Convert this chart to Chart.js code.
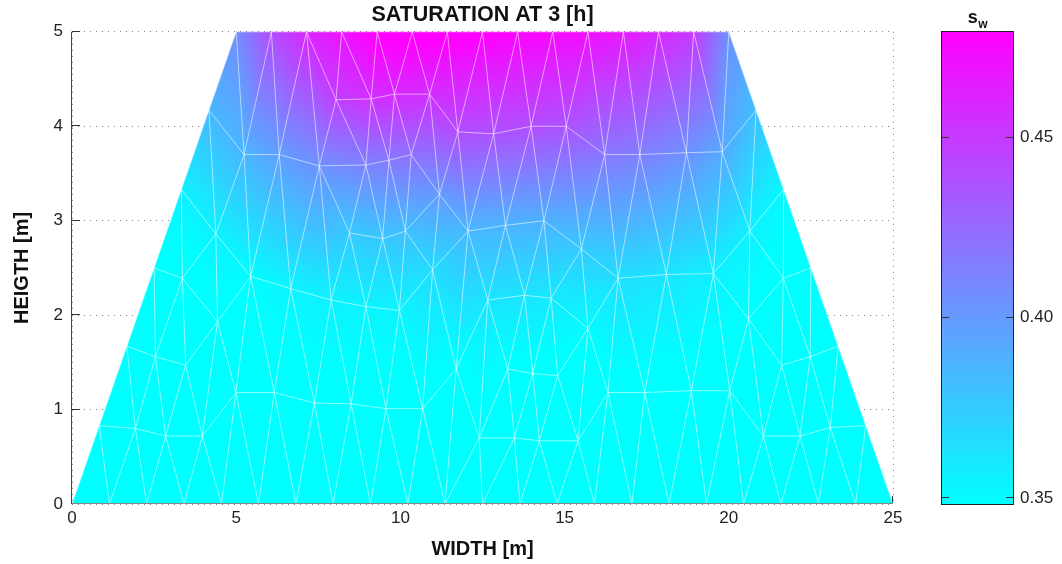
<!DOCTYPE html>
<html>
<head>
<meta charset="utf-8">
<script src="https://cdn.jsdelivr.net/npm/chart.js@4.4.0/dist/chart.umd.min.js"></script>
<style>
  html, body { margin: 0; padding: 0; background: #fff; }
  #wrap { position: relative; width: 1062px; height: 564px; }
  #main { position: absolute; left: 0; top: 0; width: 1062px; height: 564px; }
  #cbar { position: absolute; left: 930px; top: 0; width: 132px; height: 564px; }
</style>
</head>
<body>
<div id="wrap">
  <div id="main"><canvas id="field"></canvas></div>
  <div id="cbar"><canvas id="bar"></canvas></div>
</div>
<script>
// mesh nodes, saturation s_w at each node

// bottom row, y = 0
const bottomX = [0, 1.14, 2.27, 3.41, 4.55, 5.68, 6.82, 7.95, 9.09, 10.23, 11.36, 12.5,
                 13.64, 14.77, 15.91, 17.05, 18.18, 19.32, 20.45, 21.59, 22.73, 23.86, 25];
const bottomS = [0.338, 0.338, 0.338, 0.338, 0.338, 0.338, 0.338, 0.338, 0.338, 0.338, 0.338, 0.338,
                 0.338, 0.338, 0.338, 0.338, 0.338, 0.338, 0.338, 0.338, 0.338, 0.338, 0.338];

// top row, y = 5
const topX = [5, 6.07, 7.14, 8.21, 9.29, 10.36, 11.43, 12.5, 13.57, 14.64, 15.71, 16.79, 17.86, 18.93, 20];
const topS = [0.407, 0.440, 0.460, 0.470, 0.482, 0.484, 0.483, 0.481, 0.478, 0.475, 0.472, 0.467, 0.459, 0.450, 0.405];

// sloped sides
const leftX = [0.83, 1.67, 2.5, 3.33, 4.17];
const leftY = [0.83, 1.67, 2.5, 3.33, 4.17];
const leftS = [0.340, 0.341, 0.345, 0.356, 0.385];
const rightX = [24.17, 23.33, 22.5, 21.67, 20.83];
const rightY = [0.83, 1.67, 2.5, 3.33, 4.17];
const rightS = [0.340, 0.341, 0.344, 0.352, 0.381];

// inside nodes
const innerX = [8.04, 9.11, 9.82, 10.89, 11.75, 12.84, 13.98, 15.05,
                5.24, 6.31, 7.53, 8.95, 9.65, 10.33, 16.22, 17.29, 18.71, 19.80, 11.19,
                4.38, 8.45, 9.46, 10.15, 12.06, 13.20, 14.37, 15.51, 20.64,
                3.36, 5.44, 6.66, 7.89, 8.95, 9.97, 10.98, 12.66, 13.78, 14.59, 15.71, 16.63, 18.10, 19.53, 20.60, 21.66,
                4.43, 2.54, 3.46, 11.70, 13.27, 14.03, 14.79, 16.32, 17.44, 18.86, 20.03, 21.61, 22.48,
                4.99, 6.16, 7.38, 8.50, 9.56, 10.68,
                1.93, 2.85, 3.97, 12.40, 13.47, 14.23, 15.41, 21.05, 22.17, 23.09];
const innerY = [4.28, 4.29, 4.34, 4.34, 3.94, 3.92, 4.00, 4.00,
                3.70, 3.70, 3.58, 3.59, 3.64, 3.70, 3.70, 3.70, 3.72, 3.73, 3.28,
                2.86, 2.87, 2.81, 2.89, 2.89, 2.95, 3.00, 2.70, 2.89,
                2.39, 2.41, 2.28, 2.16, 2.09, 2.05, 2.48, 2.16, 2.21, 2.18, 1.86, 2.39, 2.43, 2.44, 1.96, 2.39,
                1.93, 1.56, 1.47, 1.43, 1.43, 1.38, 1.36, 1.18, 1.18, 1.20, 1.20, 1.47, 1.56,
                1.18, 1.18, 1.07, 1.06, 1.01, 1.01,
                0.80, 0.72, 0.72, 0.70, 0.70, 0.67, 0.67, 0.72, 0.72, 0.81];
const innerS = [0.447, 0.455, 0.458, 0.456, 0.440, 0.437, 0.440, 0.437,
                0.386, 0.398, 0.405, 0.412, 0.417, 0.422, 0.418, 0.414, 0.405, 0.392, 0.400,
                0.355, 0.376, 0.377, 0.381, 0.385, 0.387, 0.388, 0.375, 0.356,
                0.344, 0.350, 0.354, 0.355, 0.354, 0.354, 0.366, 0.362, 0.362, 0.359, 0.350, 0.365, 0.362, 0.356, 0.346, 0.345,
                0.346, 0.343, 0.343, 0.346, 0.346, 0.346, 0.345, 0.344, 0.344, 0.344, 0.343, 0.342, 0.342,
                0.344, 0.344, 0.344, 0.344, 0.344, 0.344,
                0.340, 0.340, 0.341, 0.342, 0.342, 0.342, 0.341, 0.340, 0.340, 0.340];

// domain outline (corners) and axis/colorbar settings
const domainX = [0, 25, 20, 5];
const domainY = [0, 0, 5, 5];
const colorLimits = [0.3483, 0.4793];
const barTicks = [0.35, 0.40, 0.45];

const nodeX = [...bottomX, ...topX, ...leftX, ...rightX, ...innerX];
const nodeY = [...bottomX.map(() => 0), ...topX.map(() => 5), ...leftY, ...rightY, ...innerY];
const nodeS = [...bottomS, ...topS, ...leftS, ...rightS, ...innerS];

// delaunay (bowyer-watson) on the data coordinates
function triangulate(xs, ys) {
    const n = xs.length;
    const px = xs.slice(), py = ys.slice();
    px.push(-1e5, 1e5, 0);
    py.push(-1e5, -1e5, 1e5);
    function circ(t) {
        const ax = px[t[0]], ay = py[t[0]], bx = px[t[1]], by = py[t[1]], cx = px[t[2]], cy = py[t[2]];
        const d = 2 * (ax * (by - cy) + bx * (cy - ay) + cx * (ay - by));
        if (Math.abs(d) < 1e-12) return null;
        const a2 = ax * ax + ay * ay, b2 = bx * bx + by * by, c2 = cx * cx + cy * cy;
        const ux = (a2 * (by - cy) + b2 * (cy - ay) + c2 * (ay - by)) / d;
        const uy = (a2 * (cx - bx) + b2 * (ax - cx) + c2 * (bx - ax)) / d;
        return [ux, uy, (ax - ux) * (ax - ux) + (ay - uy) * (ay - uy)];
    }
    let tris = [[n, n + 1, n + 2]];
    tris[0].c = circ(tris[0]);
    for (let i = 0; i < n; i++) {
        const bad = [], keep = [];
        tris.forEach(t => {
            const c = t.c;
            if (c && (px[i] - c[0]) ** 2 + (py[i] - c[1]) ** 2 < c[2] * (1 - 1e-12)) bad.push(t);
            else keep.push(t);
        });
        const edges = new Map();
        bad.forEach(t => {
            [[t[0], t[1]], [t[1], t[2]], [t[2], t[0]]].forEach(([a, b]) => {
                const k = a < b ? a + ',' + b : b + ',' + a;
                if (edges.has(k)) edges.delete(k); else edges.set(k, [a, b]);
            });
        });
        edges.forEach(([a, b]) => {
            const t = [a, b, i];
            t.c = circ(t);
            keep.push(t);
        });
        tris = keep;
    }
    return tris.filter(t => t[0] < n && t[1] < n && t[2] < n && t.c);
}

const tris = triangulate(nodeX, nodeY);

function coolColor(s) {
    let t = (s - colorLimits[0]) / (colorLimits[1] - colorLimits[0]);
    t = Math.max(0, Math.min(1, t));
    return [Math.round(255 * t), Math.round(255 * (1 - t)), 255];
}

const fieldPlugin = {
    id: 'fieldPlugin',
    beforeDatasetsDraw(chart) {
        const ctx = chart.ctx, area = chart.chartArea;
        const xs = chart.scales.x, ys = chart.scales.y;

        // inward ticks (the patch covers most of them)
        ctx.save();
        ctx.strokeStyle = '#333';
        ctx.lineWidth = 1;
        ys.ticks.forEach(t => {
            const p = Math.round(ys.getPixelForValue(t.value)) - 0.5;
            ctx.beginPath(); ctx.moveTo(area.left, p); ctx.lineTo(area.left + 8, p); ctx.stroke();
        });
        xs.ticks.forEach(t => {
            const p = Math.round(xs.getPixelForValue(t.value)) - 0.5;
            ctx.beginPath(); ctx.moveTo(p, area.bottom); ctx.lineTo(p, area.bottom - 8); ctx.stroke();
        });
        ctx.restore();

        // interpolated field
        const W = chart.width, H = chart.height;
        const off = document.createElement('canvas');
        off.width = W; off.height = H;
        const octx = off.getContext('2d');
        const im = octx.createImageData(W, H);
        const d = im.data;
        const P = nodeX.map((x, i) => [xs.getPixelForValue(x), ys.getPixelForValue(nodeY[i])]);
        tris.forEach(t => {
            const [x1, y1] = P[t[0]], [x2, y2] = P[t[1]], [x3, y3] = P[t[2]];
            const det = (y2 - y3) * (x1 - x3) + (x3 - x2) * (y1 - y3);
            if (Math.abs(det) < 1e-6) return;
            const s1 = nodeS[t[0]], s2 = nodeS[t[1]], s3 = nodeS[t[2]];
            const x0 = Math.max(0, Math.floor(Math.min(x1, x2, x3)) - 1);
            const xe = Math.min(W - 1, Math.ceil(Math.max(x1, x2, x3)) + 1);
            const y0 = Math.max(0, Math.floor(Math.min(y1, y2, y3)) - 1);
            const ye = Math.min(H - 1, Math.ceil(Math.max(y1, y2, y3)) + 1);
            for (let py = y0; py <= ye; py++) {
                for (let px = x0; px <= xe; px++) {
                    const cx = px + 0.5, cy = py + 0.5;
                    const l1 = ((y2 - y3) * (cx - x3) + (x3 - x2) * (cy - y3)) / det;
                    const l2 = ((y3 - y1) * (cx - x3) + (x1 - x3) * (cy - y3)) / det;
                    const l3 = 1 - l1 - l2;
                    if (l1 < -0.02 || l2 < -0.02 || l3 < -0.02) continue;
                    const c = coolColor(l1 * s1 + l2 * s2 + l3 * s3);
                    const k = (py * W + px) * 4;
                    d[k] = c[0]; d[k + 1] = c[1]; d[k + 2] = c[2]; d[k + 3] = 255;
                }
            }
        });
        octx.putImageData(im, 0, 0);

        ctx.save();
        ctx.beginPath();
        domainX.forEach((x, i) => {
            const X = xs.getPixelForValue(x), Y = ys.getPixelForValue(domainY[i]);
            if (i === 0) ctx.moveTo(X, Y); else ctx.lineTo(X, Y);
        });
        ctx.closePath();
        ctx.clip();
        ctx.drawImage(off, 0, 0);

        // mesh lines
        const seen = new Set();
        ctx.strokeStyle = 'rgba(255,255,255,0.55)';
        ctx.lineWidth = 1;
        ctx.beginPath();
        tris.forEach(t => {
            [[t[0], t[1]], [t[1], t[2]], [t[2], t[0]]].forEach(([a, b]) => {
                const k = a < b ? a + ',' + b : b + ',' + a;
                if (seen.has(k)) return;
                seen.add(k);
                ctx.moveTo(P[a][0], P[a][1]);
                ctx.lineTo(P[b][0], P[b][1]);
            });
        });
        ctx.stroke();
        ctx.restore();
    },
    afterDatasetsDraw(chart) {
        const ctx = chart.ctx, area = chart.chartArea;
        ctx.save();
        ctx.lineWidth = 1;
        ctx.strokeStyle = '#444';
        ctx.beginPath();
        ctx.moveTo(Math.round(area.left) - 0.5, area.top);
        ctx.lineTo(Math.round(area.left) - 0.5, area.bottom);
        ctx.stroke();
        ctx.strokeStyle = '#888';
        ctx.beginPath();
        ctx.moveTo(area.left, Math.round(area.bottom) - 0.5);
        ctx.lineTo(area.right, Math.round(area.bottom) - 0.5);
        ctx.stroke();
        ctx.restore();
    }
};

Chart.defaults.font.family = '"Liberation Sans", Arial, Helvetica, sans-serif';
Chart.defaults.color = '#222';

new Chart(document.getElementById('field'), {
    type: 'scatter',
    data: {
        datasets: [{
            data: nodeX.map((x, i) => ({ x: x, y: nodeY[i] })),
            pointRadius: 0,
            showLine: false
        }]
    },
    options: {
        responsive: true,
        maintainAspectRatio: false,
        animation: false,
        devicePixelRatio: 1,
        layout: { padding: { left: 0, right: 169, top: 0, bottom: 0 } },
        plugins: {
            legend: { display: false },
            tooltip: { enabled: false },
            title: {
                display: true,
                fullSize: false,
                text: 'SATURATION AT 3 [h]',
                color: '#111',
                font: { size: 21.5, weight: 'bold' },
                padding: { top: 2, bottom: 4 }
            }
        },
        scales: {
            x: {
                type: 'linear', min: 0, max: 25,
                ticks: { stepSize: 5, font: { size: 17 }, color: '#222', padding: 4, maxRotation: 0 },
                grid: { color: 'rgba(0,0,0,0.5)', drawTicks: false },
                border: { display: false, dash: [1, 5] },
                title: { display: true, text: 'WIDTH [m]', color: '#111', font: { size: 20, weight: 'bold' }, padding: { top: 0, bottom: 3 } },
                afterFit: s => { s.height = 60; }
            },
            y: {
                type: 'linear', min: 0, max: 5,
                ticks: { stepSize: 1, font: { size: 17 }, color: '#222', padding: 9 },
                grid: { color: 'rgba(0,0,0,0.5)', drawTicks: false },
                border: { display: false, dash: [1, 5] },
                title: { display: true, text: 'HEIGTH [m]', color: '#111', font: { size: 20, weight: 'bold' }, padding: { top: 10, bottom: 0 } },
                afterFit: s => { s.width = 72; }
            }
        }
    },
    plugins: [fieldPlugin]
});

const barPlugin = {
    id: 'barPlugin',
    beforeDatasetsDraw(chart) {
        const ctx = chart.ctx, area = chart.chartArea, ys = chart.scales.y;
        ctx.save();
        const g = ctx.createLinearGradient(0, ys.getPixelForValue(colorLimits[0]), 0, ys.getPixelForValue(colorLimits[1]));
        g.addColorStop(0, 'rgb(0,255,255)');
        g.addColorStop(1, 'rgb(255,0,255)');
        ctx.fillStyle = g;
        ctx.fillRect(area.left, area.top, area.right - area.left, area.bottom - area.top);
        ctx.strokeStyle = '#333';
        ctx.lineWidth = 1;
        barTicks.forEach(v => {
            const p = Math.round(ys.getPixelForValue(v)) - 0.5;
            ctx.beginPath();
            ctx.moveTo(area.left, p); ctx.lineTo(area.left + 7, p);
            ctx.moveTo(area.right, p); ctx.lineTo(area.right - 7, p);
            ctx.stroke();
        });
        ctx.strokeStyle = '#222';
        ctx.strokeRect(Math.round(area.left) - 0.5, Math.round(area.top) - 0.5,
                       Math.round(area.right - area.left) + 1, Math.round(area.bottom - area.top) + 1);
        // s_w label
        const cx = (area.left + area.right) / 2;
        ctx.fillStyle = '#111';
        ctx.textBaseline = 'alphabetic';
        ctx.font = 'bold 18px "Liberation Sans", Arial, sans-serif';
        const ws = ctx.measureText('s').width;
        ctx.font = 'bold 12px "Liberation Sans", Arial, sans-serif';
        const ww = ctx.measureText('w').width;
        const x0 = cx - (ws + ww) / 2;
        ctx.font = 'bold 18px "Liberation Sans", Arial, sans-serif';
        ctx.fillText('s', x0, 23);
        ctx.font = 'bold 12px "Liberation Sans", Arial, sans-serif';
        ctx.fillText('w', x0 + ws + 0.5, 28);
        ctx.restore();
    }
};

new Chart(document.getElementById('bar'), {
    type: 'scatter',
    data: { datasets: [] },
    options: {
        responsive: true,
        maintainAspectRatio: false,
        animation: false,
        devicePixelRatio: 1,
        layout: { padding: { left: 12, right: 0, top: 32, bottom: 60 } },
        plugins: { legend: { display: false }, tooltip: { enabled: false } },
        scales: {
            x: { display: false, min: 0, max: 1 },
            y: {
                position: 'right',
                min: colorLimits[0], max: colorLimits[1],
                afterBuildTicks: s => { s.ticks = barTicks.map(v => ({ value: v })); },
                ticks: { font: { size: 17 }, color: '#222', padding: 7, callback: v => v.toFixed(2) },
                grid: { display: false, drawTicks: false },
                border: { display: false },
                afterFit: s => { s.width = 49; }
            }
        }
    },
    plugins: [barPlugin]
});
</script>
</body>
</html>
